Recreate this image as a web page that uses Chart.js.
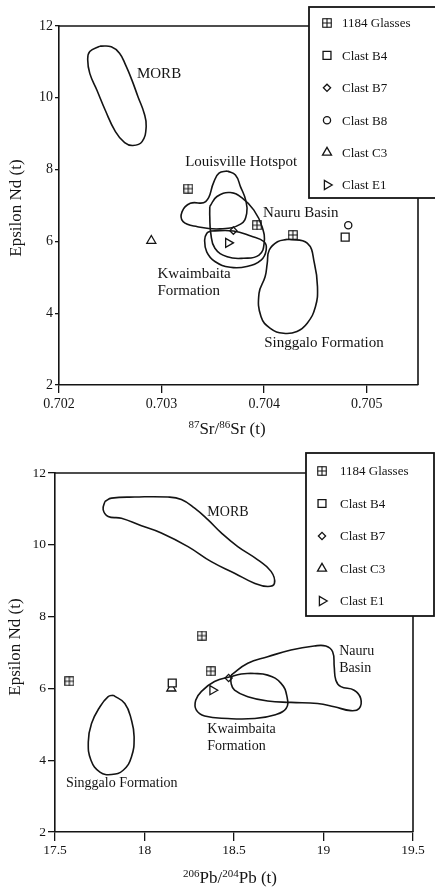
<!DOCTYPE html>
<html><head><meta charset="utf-8">
<script src="https://cdn.jsdelivr.net/npm/chart.js@4"></script>
<style>
html,body{margin:0;padding:0;background:#fff;}
#wrap{position:relative;width:435px;height:888px;overflow:hidden;}
canvas{position:absolute;left:0;}
</style></head><body>
<div id="wrap">
<canvas id="c1" width="435" height="440" style="top:0px"></canvas>
<canvas id="c2" width="435" height="448" style="top:440px"></canvas>
</div>
<script>
// ---------------- DATA ----------------
// shared y axis (Epsilon Nd)
const ndTicks = [2, 4, 6, 8, 10, 12];

// Chart 1: 87Sr/86Sr vs Epsilon Nd
const srTicks = [0.702, 0.703, 0.704, 0.705];
const srGlasses = [[0.70326, 7.47], [0.70393, 6.45], [0.70428, 6.18]];
const srB4 = [[0.70479, 6.12]];
const srB7 = [[0.70370, 6.30]];
const srB8 = [[0.70482, 6.45]];
const srC3 = [[0.70290, 6.02]];
const srE1 = [[0.70365, 5.96]];
const srMORB = [[0.70240,11.44],[0.70230,11.29],[0.70228,11.05],[0.70230,10.68],[0.70237,10.21],[0.70245,9.66],[0.70255,9.06],[0.70264,8.75],[0.70272,8.67],[0.70281,8.78],[0.70285,9.20],[0.70283,9.57],[0.70277,10.03],[0.70271,10.50],[0.70265,10.91],[0.70259,11.24],[0.70251,11.42]];
const srLouisville = [[0.70364,7.96],[0.70372,7.85],[0.70377,7.52],[0.70382,7.15],[0.70383,6.78],[0.70377,6.48],[0.70357,6.35],[0.70335,6.41],[0.70321,6.55],[0.70320,6.83],[0.70328,7.06],[0.70343,7.11],[0.70351,7.66],[0.70356,7.90]];
const srNauru = [[0.70347,6.97],[0.70354,7.25],[0.70367,7.36],[0.70379,7.20],[0.70390,6.87],[0.70398,6.41],[0.70400,5.95],[0.70395,5.62],[0.70380,5.53],[0.70364,5.57],[0.70352,5.81],[0.70348,6.22],[0.70347,6.69]];
const srKwaimbaita = [[0.70348,6.29],[0.70370,6.29],[0.70387,6.15],[0.70400,5.99],[0.70402,5.76],[0.70397,5.48],[0.70383,5.30],[0.70367,5.28],[0.70352,5.44],[0.70344,5.71],[0.70342,6.04],[0.70344,6.22]];
const srSinggalo = [[0.70423,6.06],[0.70442,5.95],[0.70449,5.39],[0.70452,4.74],[0.70450,4.18],[0.70442,3.72],[0.70432,3.49],[0.70419,3.44],[0.70406,3.58],[0.70397,3.90],[0.70395,4.55],[0.70401,5.02],[0.70403,5.39],[0.70405,5.76],[0.70413,5.99]];

// Chart 2: 206Pb/204Pb vs Epsilon Nd
const pbTicks = [17.5, 18, 18.5, 19, 19.5];
const pbGlasses = [[17.58, 6.20], [18.32, 7.47], [18.37, 6.48]];
const pbB4 = [[18.155, 6.15]];
const pbB7 = [[18.47, 6.29]];
const pbC3 = [[18.15, 6.00]];
const pbE1 = [[18.38, 5.95]];
const pbMORB = [[17.779,11.21],[17.816,11.30],[17.946,11.33],[18.131,11.33],[18.206,11.26],[18.280,11.02],[18.354,10.70],[18.429,10.33],[18.521,9.95],[18.633,9.58],[18.707,9.26],[18.726,8.93],[18.689,8.84],[18.614,8.93],[18.503,9.21],[18.373,9.53],[18.243,9.95],[18.094,10.33],[17.983,10.53],[17.871,10.74],[17.797,10.79],[17.769,10.98]];
const pbNauru = [[18.484,6.37],[18.577,6.70],[18.688,6.88],[18.818,7.07],[18.948,7.18],[19.013,7.18],[19.051,7.02],[19.060,6.60],[19.069,6.23],[19.097,6.05],[19.171,5.95],[19.208,5.72],[19.199,5.44],[19.153,5.38],[19.060,5.49],[18.967,5.58],[18.818,5.61],[18.688,5.65],[18.577,5.77],[18.503,5.95],[18.484,6.14]];
const pbKwaimbaita = [[18.596,6.42],[18.688,6.37],[18.763,6.14],[18.796,5.77],[18.791,5.44],[18.726,5.26],[18.614,5.16],[18.466,5.16],[18.336,5.23],[18.289,5.40],[18.286,5.67],[18.317,5.91],[18.391,6.19],[18.484,6.33],[18.540,6.40]];
const pbSinggalo = [[17.825,5.81],[17.890,5.58],[17.927,5.12],[17.942,4.65],[17.927,4.09],[17.881,3.72],[17.816,3.60],[17.751,3.67],[17.701,4.00],[17.686,4.51],[17.704,5.02],[17.751,5.49],[17.797,5.77]];

// ---------------- HELPERS ----------------
const INK = '#141414';
const SERIF = '"Liberation Serif", "DejaVu Serif", serif';
const pts = a => a.map(([x, y]) => ({x, y}));
const closed = a => pts(a.concat([a[0]]));

// crossed-square glyph for "1184 Glasses"
function crossedSquare() {
  const c = document.createElement('canvas');
  c.width = 10; c.height = 10;
  const g = c.getContext('2d');
  g.strokeStyle = INK; g.lineWidth = 1.1;
  g.fillStyle = '#fff'; g.fillRect(0, 0, 10, 10);
  g.strokeRect(0.75, 0.75, 8.5, 8.5);
  g.beginPath();
  g.moveTo(5, 0.5); g.lineTo(5, 9.5);
  g.moveTo(0.5, 5); g.lineTo(9.5, 5);
  g.stroke();
  return c;
}
const GLASS = crossedSquare();

function marker(label, data, style, radius, rotation) {
  return {
    label, data: pts(data), isMarker: true,
    pointStyle: style, pointRadius: radius, pointRotation: rotation || 0,
    pointBorderColor: INK, pointBackgroundColor: '#fff', pointBorderWidth: 1.3,
    showLine: false
  };
}
function contour(name, data) {
  return {
    label: name, data: closed(data), isMarker: false, showLine: true,
    borderColor: INK, borderWidth: 1.6, tension: 0.45, pointRadius: 0, fill: false
  };
}

const decor = {
  id: 'decor',
  afterDraw(chart, args, o) {
    const ctx = chart.ctx, xs = chart.scales.x, ys = chart.scales.y, a = chart.chartArea;
    ctx.save();
    // plot frame (top/right)
    ctx.strokeStyle = INK; ctx.lineWidth = 1.6;
    ctx.beginPath();
    ctx.moveTo(a.left, a.top); ctx.lineTo(a.right, a.top); ctx.lineTo(a.right, a.bottom);
    ctx.stroke();
    // region labels
    ctx.fillStyle = INK; ctx.textAlign = 'left'; ctx.textBaseline = 'middle';
    ctx.font = o.labelSize + 'px ' + SERIF;
    o.labels.forEach(l => ctx.fillText(l.text, xs.getPixelForValue(l.x), ys.getPixelForValue(l.y)));
    // y title
    ctx.save();
    ctx.translate(o.yTitle.x, o.yTitle.y); ctx.rotate(-Math.PI / 2);
    ctx.textAlign = 'center'; ctx.font = '17px ' + SERIF;
    ctx.fillText(o.yTitle.text, 0, 0);
    ctx.restore();
    // x title with superscripts
    const parts = o.xTitle.parts;
    let w = 0;
    parts.forEach(p => { ctx.font = (p.sup ? '11px ' : '17px ') + SERIF; p.w = ctx.measureText(p.t).width; w += p.w; });
    let x = o.xTitle.x - w / 2;
    ctx.textAlign = 'left';
    parts.forEach(p => {
      ctx.font = (p.sup ? '11px ' : '17px ') + SERIF;
      ctx.fillText(p.t, x, o.xTitle.y - (p.sup ? 5 : 0));
      x += p.w;
    });
    // legend
    const L = o.legend;
    ctx.fillStyle = '#fff';
    ctx.fillRect(L.x, L.y, L.w, L.h);
    ctx.strokeStyle = INK; ctx.lineWidth = 1.8;
    ctx.strokeRect(L.x, L.y, L.w, L.h);
    const items = chart.data.datasets.filter(d => d.isMarker);
    ctx.font = '13px ' + SERIF;
    items.forEach((d, i) => {
      const yy = L.firstY + i * L.step;
      ctx.fillStyle = '#fff'; ctx.strokeStyle = INK; ctx.lineWidth = d.pointBorderWidth;
      Chart.helpers.drawPoint(ctx, {pointStyle: d.pointStyle, radius: d.pointRadius, rotation: d.pointRotation, borderWidth: d.pointBorderWidth}, L.glyphX, yy);
      ctx.fillStyle = INK;
      ctx.fillText(d.label, L.textX, yy + 1);
    });
    ctx.restore();
  }
};

function makeScales(xTicks, xmin, xmax, yw, xh, ytl, ypad, xtl, xpad, fsize) {
  const tickFont = {family: SERIF, size: fsize};
  return {
    x: {
      type: 'linear', min: xmin, max: xmax,
      afterBuildTicks: s => { s.ticks = xTicks.map(v => ({value: v})); },
      afterFit: s => { s.height = xh; },
      grid: {display: true, drawOnChartArea: false, drawTicks: true, tickLength: xtl, color: INK, lineWidth: 1.3},
      border: {display: true, color: INK, width: 1.6},
      ticks: {color: INK, font: tickFont, padding: xpad, maxRotation: 0, autoSkip: false, callback: v => String(v)}
    },
    y: {
      type: 'linear', min: 2, max: 12,
      afterBuildTicks: s => { s.ticks = ndTicks.map(v => ({value: v})); },
      afterFit: s => { s.width = yw; },
      grid: {display: true, drawOnChartArea: false, drawTicks: true, tickLength: ytl, color: INK, lineWidth: 1.3},
      border: {display: true, color: INK, width: 1.6},
      ticks: {color: INK, font: tickFont, padding: ypad, autoSkip: false, callback: v => String(v)}
    }
  };
}

// ---------------- CHART 1 ----------------
new Chart(document.getElementById('c1'), {
  type: 'scatter',
  data: {
    datasets: [
      contour('MORB', srMORB),
      contour('Louisville Hotspot', srLouisville),
      contour('Nauru Basin', srNauru),
      contour('Kwaimbaita Formation', srKwaimbaita),
      contour('Singgalo Formation', srSinggalo),
      marker('1184 Glasses', srGlasses, GLASS, 5),
      marker('Clast B4', srB4, 'rect', 5.6),
      marker('Clast B7', srB7, 'rectRot', 3.6),
      marker('Clast B8', srB8, 'circle', 3.6),
      marker('Clast C3', srC3, 'triangle', 5.2),
      marker('Clast E1', srE1, 'triangle', 5.2, 90)
    ]
  },
  options: {
    responsive: false, animation: false, events: [],
    layout: {padding: {top: 26, right: 17, left: 0, bottom: 0}},
    scales: makeScales(srTicks, 0.702, 0.7055, 59, 55, 4, 2, 8, 3, 14),
    plugins: {
      legend: {display: false}, tooltip: {enabled: false},
      decor: {
        labelSize: 15,
        labels: [
          {text: 'MORB', x: 0.70276, y: 10.66},
          {text: 'Louisville Hotspot', x: 0.70323, y: 8.20},
          {text: 'Nauru Basin', x: 0.70399, y: 6.78},
          {text: 'Kwaimbaita', x: 0.70296, y: 5.09},
          {text: 'Formation', x: 0.70296, y: 4.63},
          {text: 'Singgalo Formation', x: 0.70400, y: 3.16}
        ],
        yTitle: {text: 'Epsilon Nd (t)', x: 17, y: 208},
        xTitle: {x: 227, y: 430, parts: [{t: '87', sup: true}, {t: 'Sr/'}, {t: '86', sup: true}, {t: 'Sr (t)'}]},
        legend: {x: 309, y: 7, w: 130, h: 191, glyphX: 327, textX: 342, firstY: 23, step: 32.4}
      }
    }
  },
  plugins: [decor]
});

// ---------------- CHART 2 ----------------
new Chart(document.getElementById('c2'), {
  type: 'scatter',
  data: {
    datasets: [
      contour('MORB', pbMORB),
      contour('Nauru Basin', pbNauru),
      contour('Kwaimbaita Formation', pbKwaimbaita),
      contour('Singgalo Formation', pbSinggalo),
      marker('1184 Glasses', pbGlasses, GLASS, 5),
      marker('Clast B4', pbB4, 'rect', 5.6),
      marker('Clast B7', pbB7, 'rectRot', 3.6),
      marker('Clast C3', pbC3, 'triangle', 5.2),
      marker('Clast E1', pbE1, 'triangle', 5.2, 90)
    ]
  },
  options: {
    responsive: false, animation: false, events: [],
    layout: {padding: {top: 33, right: 22, left: 0, bottom: 0}},
    scales: makeScales(pbTicks, 17.5, 19.5, 55, 56, 7, 2, 9, 1, 13.5),
    plugins: {
      legend: {display: false}, tooltip: {enabled: false},
      decor: {
        labelSize: 14,
        labels: [
          {text: 'MORB', x: 18.351, y: 10.90},
          {text: 'Nauru', x: 19.088, y: 7.02},
          {text: 'Basin', x: 19.088, y: 6.56},
          {text: 'Kwaimbaita', x: 18.351, y: 4.86},
          {text: 'Formation', x: 18.351, y: 4.39},
          {text: 'Singgalo Formation', x: 17.561, y: 3.35}
        ],
        yTitle: {text: 'Epsilon Nd (t)', x: 16, y: 207},
        xTitle: {x: 230, y: 439, parts: [{t: '206', sup: true}, {t: 'Pb/'}, {t: '204', sup: true}, {t: 'Pb (t)'}]},
        legend: {x: 306, y: 13, w: 128, h: 163, glyphX: 322, textX: 340, firstY: 31, step: 32.5}
      }
    }
  },
  plugins: [decor]
});
</script>
</body></html>
